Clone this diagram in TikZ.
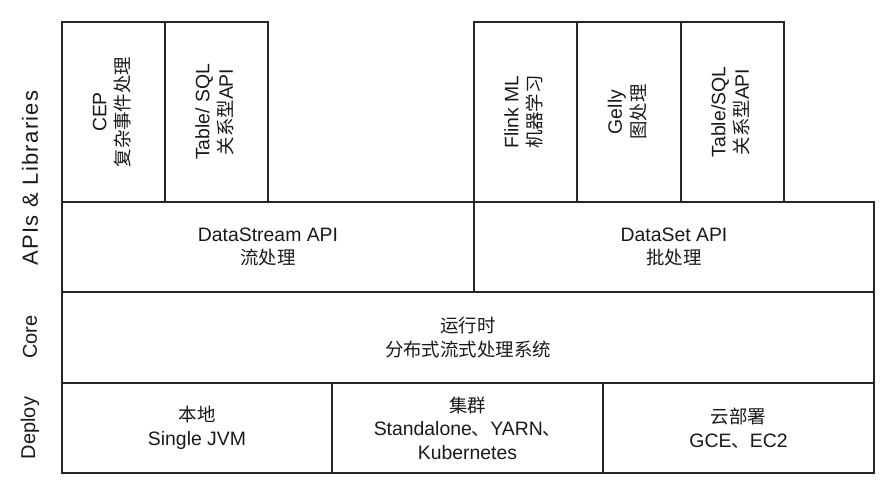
\documentclass[tikz,border=0pt]{standalone}
\usepackage{fontspec}
\setmainfont{Liberation Sans}
\newfontfamily\cjk[Scale=0.95]{Noto Sans CJK SC}
\usetikzlibrary{positioning}
\tikzset{x=1pt,y=1pt,
box/.style={draw=black!85,line width=1.2pt,inner sep=0pt,outer sep=0pt,align=center,
  font=\fontsize{19.4}{23.5}\selectfont,text=black!90},
lib/.style={box,minimum width=103pt,minimum height=180pt,anchor=north west},
row/.style={box,minimum height=90pt,anchor=north west},
lbl/.style={rotate=90,font=\fontsize{20}{24}\selectfont,text=black!90},
}
\newcommand{\vtext}[2]{\rotatebox{90}{\begin{tabular}{@{}c@{}}#1\\#2\end{tabular}}}

\begin{document}
\begin{tikzpicture}
	\useasboundingbox (0,0) rectangle (893,-483);

	% APIs & Libraries
	\node[lib] (cep) at (62,-22) {\vtext{CEP}{\cjk 复杂事件处理}};
	\node[lib,right=0pt of cep] (tsqla) {\vtext{Table/ SQL}{{\cjk 关系型}API}};
	\node[lib] (ml) at (474,-22) {\vtext{Flink ML}{\cjk 机器学习}};
	\node[lib,minimum width=104pt,right=0pt of ml] (gelly) {\vtext{Gelly}{\cjk 图处理}};
	\node[lib,right=0pt of gelly] (tsqlb) {\vtext{Table/SQL}{{\cjk 关系型}API}};

	\node[row,minimum width=412pt] (stream) at (62,-202) {DataStream API\\{\cjk 流处理}};
	\node[row,minimum width=400pt,right=0pt of stream] (dset) {DataSet API\\{\cjk 批处理}};

	% Core
	\node[row,minimum width=812pt,minimum height=91pt] (core) at (62,-292) {{\cjk 运行时}\\{\cjk 分布式流式处理系统}};

	% Deploy
	\node[row,minimum width=270pt] (local) at (62,-383) {{\cjk 本地}\\Single JVM};
	\node[row,minimum width=271pt,right=0pt of local] (cluster) {{\cjk 集群}\\Standalone{\cjk 、}YARN{\cjk 、}\\Kubernetes};
	\node[row,minimum width=271pt,right=0pt of cluster] (cloud) {{\cjk 云部署}\\GCE{\cjk 、}EC2};

	\node[lbl,font=\fontsize{22}{26}\selectfont\addfontfeature{LetterSpace=6}] (lapi) at (30,-178) {APIs \& Libraries};
	\node[lbl] (lcore) at (30,-337) {Core};
	\node[lbl] (ldeploy) at (30,-428) {Deploy};
\end{tikzpicture}
\end{document}
